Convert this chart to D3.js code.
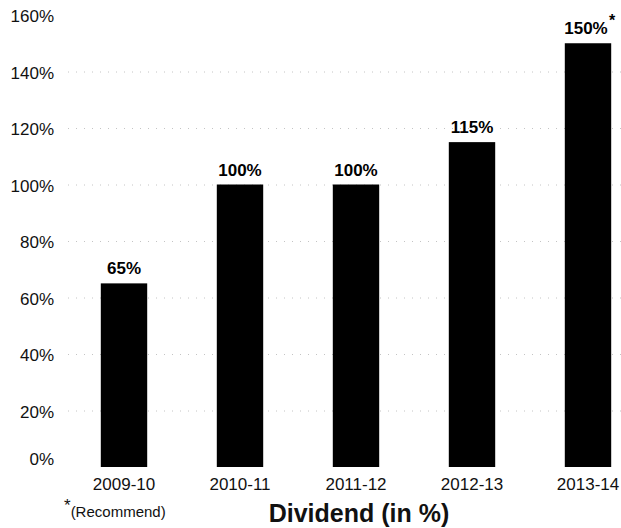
<!DOCTYPE html>
<html>
<head>
<meta charset="utf-8">
<script src="https://cdn.jsdelivr.net/npm/d3@7"></script>
<style>
  body { margin: 0; background: #fff; }
  svg { display: block; font-family: "Liberation Sans", Arial, sans-serif; }
  .grid line { stroke: #c4c4c4; stroke-width: 1; stroke-dasharray: 1 7; }
</style>
</head>
<body>
<div id="chart"></div>
<script>
// dividend data
var years = ["2009-10", "2010-11", "2011-12", "2012-13", "2013-14"];
var dividend = [65, 100, 100, 115, 150];
var valueLabels = ["65%", "100%", "100%", "115%", "150%"];
var yTicks = [0, 20, 40, 60, 80, 100, 120, 140, 160];

var width = 621, height = 528;

var svg = d3.select("#chart").append("svg")
    .attr("width", width)
    .attr("height", height);

var x = d3.scaleBand()
    .domain(years)
    .range([66, 646])
    .paddingInner(0.6)
    .paddingOuter(0.3);

var y = d3.scaleLinear()
    .domain([0, 160])
    .range([467, 15]);

// dotted gridlines
svg.append("g")
    .attr("class", "grid")
  .selectAll("line")
  .data(yTicks.filter(function(d) { return d > 0 && d < 160; }))
  .enter().append("line")
    .attr("x1", 68)
    .attr("x2", width)
    .attr("y1", function(d) { return y(d) + 0.5; })
    .attr("y2", function(d) { return y(d) + 0.5; });

// y axis labels
var yAxis = svg.append("g")
    .attr("transform", "translate(54,0)")
    .call(d3.axisLeft(y).tickValues(yTicks).tickSize(0).tickPadding(0)
      .tickFormat(function(d) { return d + "%"; }));
yAxis.select(".domain").remove();
yAxis.selectAll("text")
    .attr("font-family", "Liberation Sans, Arial, sans-serif")
    .attr("font-size", 17)
    .attr("fill", "#111")
    .attr("dy", function(d) { return d === 0 ? "-0.12em" : "0.4em"; });

// bars
svg.append("g")
  .selectAll("rect")
  .data(dividend)
  .enter().append("rect")
    .attr("x", function(d, i) { return x(years[i]); })
    .attr("width", x.bandwidth())
    .attr("y", function(d) { return y(d); })
    .attr("height", function(d) { return y(0) - y(d); })
    .attr("fill", "#000");

// value labels
svg.append("g")
  .selectAll("text")
  .data(dividend)
  .enter().append("text")
    .attr("x", function(d, i) { return x(years[i]) + x.bandwidth() / 2 - (i === dividend.length - 1 ? 2 : 0); })
    .attr("y", function(d) { return y(d) - 9; })
    .attr("text-anchor", "middle")
    .attr("font-size", 17)
    .attr("font-weight", "bold")
    .attr("fill", "#000")
    .text(function(d, i) { return valueLabels[i]; });

// recommended marker on last label
var last = dividend.length - 1;
svg.append("text")
    .attr("x", x(years[last]) + x.bandwidth() / 2 + 21)
    .attr("y", y(dividend[last]) - 17)
    .attr("font-size", 16)
    .attr("font-weight", "bold")
    .text("*");

// x axis labels
var xAxis = svg.append("g")
    .attr("transform", "translate(0,475)")
    .call(d3.axisBottom(x).tickSize(0).tickPadding(0));
xAxis.select(".domain").remove();
xAxis.selectAll("text")
    .attr("font-family", "Liberation Sans, Arial, sans-serif")
    .attr("font-size", 17)
    .attr("fill", "#111")
    .attr("dy", "0.9em");

// footnote
var fn = svg.append("text")
    .attr("x", 64)
    .attr("y", 517)
    .attr("font-size", 15)
    .attr("fill", "#111");
fn.append("tspan").attr("font-size", 17).attr("dy", -6).text("*");
fn.append("tspan").attr("dy", 6).text("(Recommend)");

// title
svg.append("text")
    .attr("x", 359)
    .attr("y", 522)
    .attr("text-anchor", "middle")
    .attr("font-size", 25)
    .attr("font-weight", "bold")
    .attr("fill", "#111")
    .text("Dividend (in %)");
</script>
</body>
</html>
